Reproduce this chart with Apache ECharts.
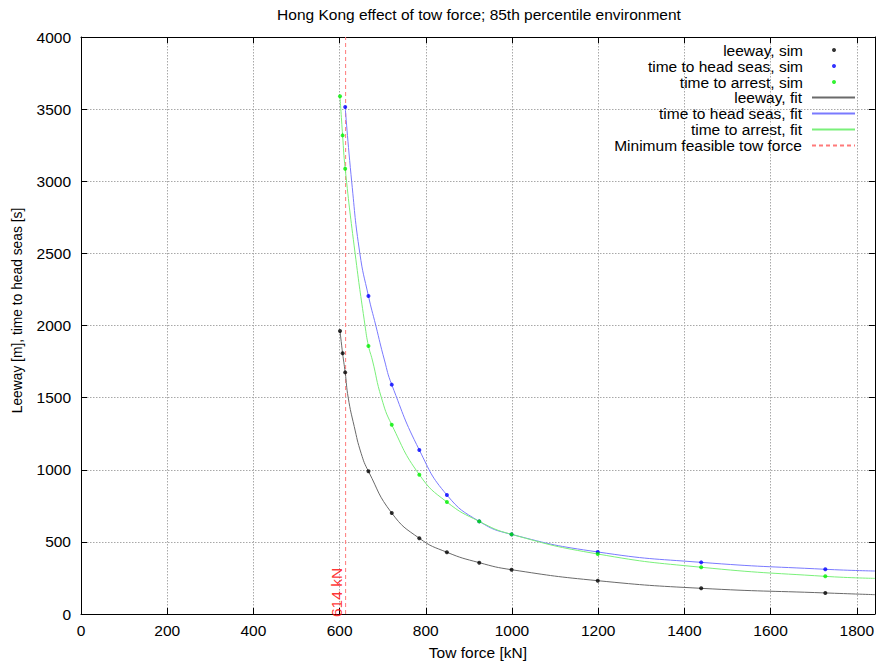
<!DOCTYPE html>
<html>
<head>
<meta charset="utf-8">
<script src="https://cdn.jsdelivr.net/npm/echarts@6/dist/echarts.min.js"></script>
<style>
html,body{margin:0;padding:0;background:#fff;}
#chart{width:877px;height:668px;}
</style>
</head>
<body>
<div id="chart"></div>
<script>
// ---- data ----
const titleText = 'Hong Kong effect of tow force; 85th percentile environment';
const xAxisName = 'Tow force [kN]';
const yAxisName = 'Leeway [m], time to head seas [s]';

const leewaySim = [[601,1962],[607,1807],[613,1675],[667,989],[721,700],[785,525],[849,428],[924,356],[999,307],[1199,231],[1439,178],[1727,146]];
const headSeasSim = [[613,3515],[667,2204],[721,1590],[785,1137],[849,825],[924,642],[999,552],[1199,430],[1439,358],[1727,310]];
const arrestSim = [[601,3589],[607,3318],[613,3087],[667,1858],[721,1312],[785,966],[849,776],[924,642],[999,552],[1199,416],[1439,324],[1727,261]];

const leewayFit = [[601,1962],[607,1807],[613,1675],[620,1500],[634,1300],[650,1114],[667,989],[721,700],[785,525],[849,428],[924,356],[999,307],[1199,231],[1439,178],[1727,146],[1842,134]];
const headSeasFit = [[613,3515],[628,3000],[647,2500],[667,2204],[684,2000],[704,1761],[721,1590],[785,1137],[849,825],[924,642],[999,552],[1199,430],[1439,358],[1727,310],[1842,298]];
const arrestFit = [[601,3589],[607,3318],[613,3087],[636,2500],[659,2000],[667,1858],[676,1761],[697,1500],[721,1312],[785,966],[849,776],[924,642],[999,552],[1199,416],[1439,324],[1727,261],[1842,247]];

const minForce = 614;
const minForceLabel = '614 kN';
const yRange = [0, 4000];
const xRange = [0, 1842];

const simNames = ['leeway, sim','time to head seas, sim','time to arrest, sim'];
const fitNames = ['leeway, fit','time to head seas, fit','time to arrest, fit','Minimum feasible tow force'];

// ---- chart ----
const FONT = 'Liberation Sans, Arial, Helvetica, sans-serif';
const FS = 15.5;
const chart = echarts.init(document.getElementById('chart'), null, {renderer:'svg'});

const gridLine = {show:true, lineStyle:{color:'#a8a8a8', type:[1.5,1.5], width:1}};
const axisLineBlack = {show:true, onZero:false, lineStyle:{color:'#000', width:1}};
const plain = v => String(v);

function fitSeries(name, data, color, z){
  return {name, type:'line', data, symbol:'none', smooth:0.5,
          lineStyle:{color, width:1}, itemStyle:{color}, z, silent:true, animation:false};
}
function simSeries(name, data, color){
  return {name, type:'scatter', data, symbol:'circle', symbolSize:4,
          itemStyle:{color}, z:10, silent:true, animation:false};
}

chart.setOption({
  animation:false,
  backgroundColor:'#fff',
  textStyle:{fontFamily:FONT},
  title:{text:titleText, left:479, top:6, padding:0, textAlign:'center',
         textStyle:{fontFamily:FONT, fontSize:FS, fontWeight:'normal', color:'#000'}},
  grid:{left:81, right:2, top:37, bottom:54, containLabel:false},
  legend:[
    {data:simNames, orient:'vertical', right:41, top:42, padding:0, itemGap:0,
     itemWidth:4, itemHeight:4, align:'right', selectedMode:false,
     textStyle:{fontFamily:FONT, fontSize:FS, color:'#000', lineHeight:15, padding:[0,24,0,0]}},
    {data:fitNames, orient:'vertical', right:21, top:89.5, padding:0, itemGap:0,
     itemWidth:43, itemHeight:0.2, align:'right', selectedMode:false,
     textStyle:{fontFamily:FONT, fontSize:FS, color:'#000', lineHeight:15.2, padding:[0,5,0,0]}}
  ],
  xAxis:[
    {type:'value', min:xRange[0], max:xRange[1], interval:200, position:'bottom',
     name:xAxisName, nameLocation:'middle', nameGap:30,
     nameTextStyle:{fontFamily:FONT, fontSize:FS, color:'#000'},
     axisLine:axisLineBlack, axisTick:{show:true, inside:true, length:6, lineStyle:{color:'#000'}},
     axisLabel:{show:true, margin:8, showMaxLabel:false, formatter:plain, fontFamily:FONT, fontSize:FS, color:'#000'},
     splitLine:gridLine},
    {type:'value', min:xRange[0], max:xRange[1], interval:200, position:'top',
     axisLine:axisLineBlack, axisTick:{show:true, inside:true, length:6, lineStyle:{color:'#000'}},
     axisLabel:{show:false}, splitLine:{show:false}}
  ],
  yAxis:[
    {type:'value', min:yRange[0], max:yRange[1], interval:500, position:'left',
     name:yAxisName, nameLocation:'middle', nameGap:57, nameRotate:90,
     nameTextStyle:{fontFamily:FONT, fontSize:13.8, color:'#000', padding:[0,0,0,30]},
     axisLine:axisLineBlack, axisTick:{show:true, inside:true, length:6, lineStyle:{color:'#000'}},
     axisLabel:{show:true, margin:10, formatter:plain, fontFamily:FONT, fontSize:FS, color:'#000'},
     splitLine:gridLine},
    {type:'value', min:yRange[0], max:yRange[1], interval:500, position:'right',
     axisLine:axisLineBlack, axisTick:{show:true, inside:true, length:6, lineStyle:{color:'#000'}},
     axisLabel:{show:false}, splitLine:{show:false}}
  ],
  series:[
    simSeries(simNames[0], leewaySim, '#000000'),
    simSeries(simNames[1], headSeasSim, '#0000ff'),
    simSeries(simNames[2], arrestSim, '#00f000'),
    fitSeries(fitNames[0], leewayFit, '#6a6a6a', 3),
    fitSeries(fitNames[1], headSeasFit, '#7a7aff', 3),
    fitSeries(fitNames[2], arrestFit, '#7af07a', 3),
    {name:fitNames[3], type:'line', data:[[minForce, yRange[0]],[minForce, yRange[1]]], symbol:'none',
     lineStyle:{color:'#ff7a7a', width:1, type:[4,3]}, itemStyle:{color:'#ff7a7a'}, z:2, silent:true},
    {name:'minForceLabel', type:'scatter', data:[[minForce, yRange[0]]], symbolSize:0, z:11, silent:true,
     itemStyle:{color:'rgba(0,0,0,0)'},
     label:{show:true, formatter:minForceLabel, position:[0,0], rotate:90, align:'left', verticalAlign:'bottom',
            offset:[-3,-1], fontFamily:FONT, fontSize:FS, color:'#ff0000'}}
  ]
});
</script>
</body>
</html>
